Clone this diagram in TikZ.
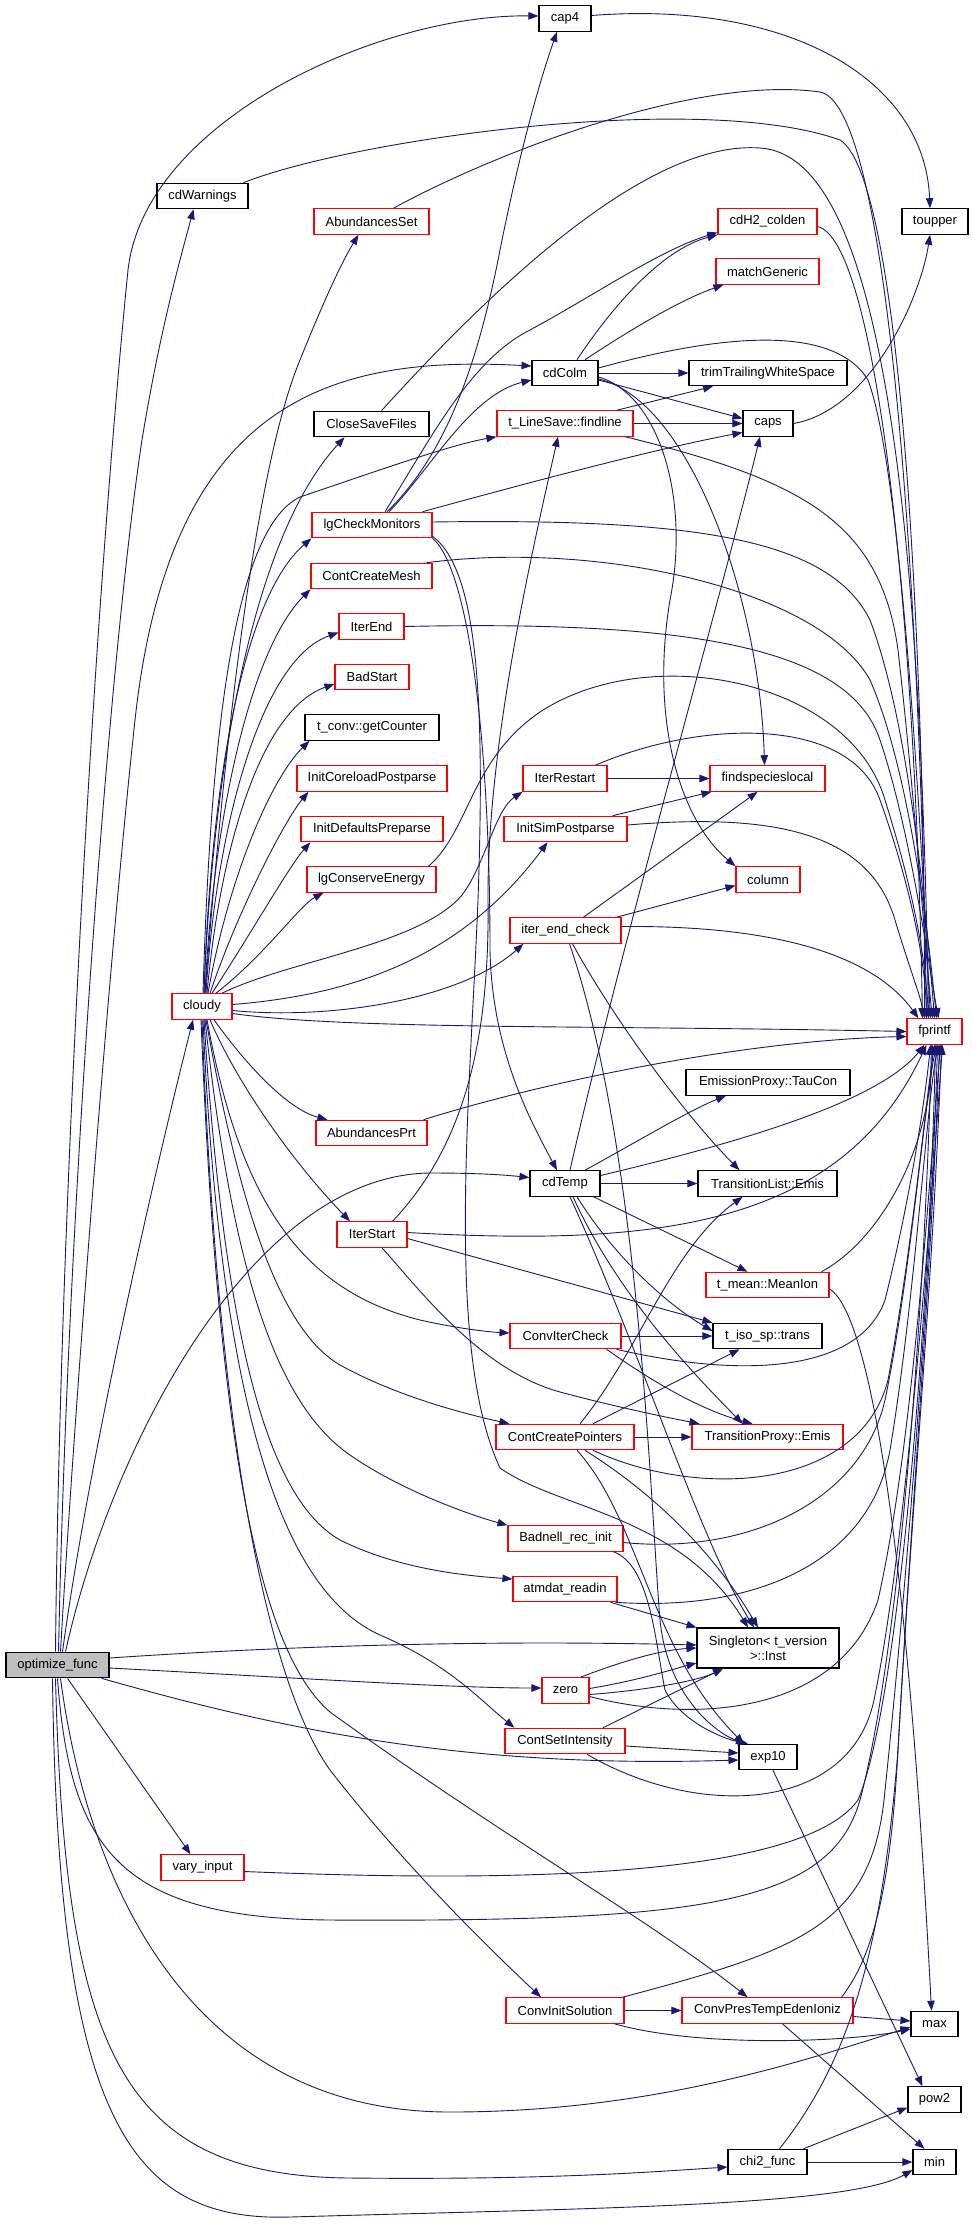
\documentclass[tikz,border=0pt]{standalone}
\usepackage{fontspec}
\setmainfont{Liberation Sans}
\usetikzlibrary{arrows.meta}
\definecolor{edgeblue}{HTML}{191970}
\definecolor{boxred}{HTML}{FF0000}
\definecolor{boxgray}{HTML}{BFBFBF}
\begin{document}
\begin{tikzpicture}[x=1pt,y=-1pt,
  box/.style={draw=black, line width=1.1pt, fill=white, minimum height=25.5pt, inner sep=0pt, font=\fontsize{13}{15}\selectfont},
  rbox/.style={box, draw=boxred},
  e/.style={draw=edgeblue, line width=0.9pt, -{Triangle[length=10pt,width=7.5pt]}}]
\fill[white] (0,0) rectangle (973,2224);
\useasboundingbox (0,0) rectangle (973,2224);
% nodes
\node[box, fill=boxgray, minimum width=103pt] (opt) at (57.5,1665) {optimize\_func};
\node[box, minimum width=52pt] (cap4) at (565,18.5) {cap4};
\node[box, minimum width=91pt] (cdW) at (202.5,196) {cdWarnings};
\node[rbox, minimum width=115pt] (AbSet) at (371.5,221.5) {AbundancesSet};
\node[box, minimum width=66pt] (toupper) at (935,221.5) {toupper};
\node[rbox, minimum width=99pt] (cdH2) at (767.5,221.5) {cdH2\_colden};
\node[rbox, minimum width=103pt] (match) at (767.5,271.5) {matchGeneric};
\node[box, minimum width=66pt] (cdColm) at (565,373) {cdColm};
\node[box, minimum width=158pt] (trim) at (768,373) {trimTrailingWhiteSpace};
\node[box, minimum width=115pt] (CSF) at (371.5,424) {CloseSaveFiles};
\node[rbox, minimum width=136pt] (findline) at (565,423.5) {t\_LineSave::findline};
\node[box, minimum width=50pt] (caps) at (768,423.5) {caps};
\node[rbox, minimum width=120pt] (lgCM) at (372,525) {lgCheckMonitors};
\node[rbox, minimum width=121pt] (CCM) at (371.5,576) {ContCreateMesh};
\node[rbox, minimum width=65pt] (IterEnd) at (371.5,626.5) {IterEnd};
\node[rbox, minimum width=74pt] (BadStart) at (372,677) {BadStart};
\node[box, minimum width=134pt] (getCounter) at (372,727.5) {t\_conv::getCounter};
\node[rbox, minimum width=150pt] (InitCore) at (372,778.5) {InitCoreloadPostparse};
\node[rbox, minimum width=142pt] (InitDef) at (372,829) {InitDefaultsPreparse};
\node[rbox, minimum width=129pt] (lgCE) at (371.5,879.5) {lgConserveEnergy};
\node[rbox, minimum width=84pt] (IterRestart) at (565,778.5) {IterRestart};
\node[rbox, minimum width=115pt] (findsp) at (767.5,778.5) {findspecieslocal};
\node[rbox, minimum width=123pt] (InitSim) at (565.5,829) {InitSimPostparse};
\node[rbox, minimum width=64pt] (column) at (768,879.5) {column};
\node[rbox, minimum width=60pt] (cloudy) at (202,1006.5) {cloudy};
\node[rbox, minimum width=111pt] (iec) at (565.5,930.5) {iter\_end\_check};
\node[rbox, minimum width=55pt] (fprintf) at (934.5,1031.5) {fprintf};
\node[rbox, minimum width=111pt] (AbPrt) at (371.5,1133) {AbundancesPrt};
\node[box, minimum width=164pt] (TauCon) at (768,1082.5) {EmissionProxy::TauCon};
\node[box, minimum width=70pt] (cdTemp) at (565,1183.5) {cdTemp};
\node[box, minimum width=139pt] (TLEmis) at (767.5,1183.5) {TransitionList::Emis};
\node[rbox, minimum width=70pt] (IterStart) at (372,1234.5) {IterStart};
\node[rbox, minimum width=123pt] (MeanIon) at (767.5,1285) {t\_mean::MeanIon};
\node[rbox, minimum width=111pt] (ConvIter) at (565.5,1336) {ConvIterCheck};
\node[box, minimum width=109pt] (isotrans) at (767.5,1336) {t\_iso\_sp::trans};
\node[rbox, minimum width=138pt] (CCP) at (565,1437) {ContCreatePointers};
\node[rbox, minimum width=151pt] (TPEmis) at (767.5,1437) {TransitionProxy::Emis};
\node[rbox, minimum width=115pt] (Badnell) at (565.5,1538.5) {Badnell\_rec\_init};
\node[rbox, minimum width=104pt] (atmdat) at (565,1589) {atmdat\_readin};
\node[box, minimum width=142pt, minimum height=40pt, align=center] (Singleton) at (768,1648) {Singleton< t\_version\\>::Inst};
\node[rbox, minimum width=47pt] (zero) at (565.5,1690.5) {zero};
\node[rbox, minimum width=120pt] (CSI) at (565,1741) {ContSetIntensity};
\node[box, minimum width=58pt] (exp10) at (768,1757) {exp10};
\node[rbox, minimum width=83pt] (vary) at (202.5,1867.5) {vary\_input};
\node[rbox, minimum width=118pt] (ConvInit) at (565,2010.5) {ConvInitSolution};
\node[rbox, minimum width=171pt] (CPTEI) at (767.5,2010.5) {ConvPresTempEdenIoniz};
\node[box, minimum width=47pt] (nmax) at (934.5,2024) {max};
\node[box, minimum width=53pt] (pow2) at (934.5,2099.5) {pow2};
\node[box, minimum width=79pt] (chi2) at (767.5,2162) {chi2\_func};
\node[box, minimum width=43pt] (nmin) at (934.5,2162) {min};
% optimize_func
\draw[e] ([xshift=-2pt]opt.north) .. controls (60,1200) and (95,600) .. (128,270) .. controls (145,120) and (380,14) .. ([yshift=2.5pt]cap4.west);
\draw[e] ([xshift=1pt]opt.north) .. controls (68,1200) and (110,650) .. (142,440) .. controls (160,330) and (180,260) .. ([xshift=-9pt]cdW.south);
\draw[e] ([xshift=3pt]opt.north) .. controls (75,1400) and (110,950) .. (135,720) .. controls (170,400) and (330,355) .. ([yshift=7pt]cdColm.west);
\draw[e] ([xshift=5pt]opt.north) .. controls (90,1450) and (160,1150) .. ([xshift=-9pt]cloudy.south);
\draw[e] ([xshift=8pt]opt.north) .. controls (110,1450) and (250,1175) .. (430,1173) .. controls (480,1173) and (505,1175) .. ([yshift=6pt]cdTemp.west);
\draw[e] ([yshift=7pt]opt.east) .. controls (300,1645) and (500,1640) .. ([yshift=3pt]Singleton.west);
\draw[e] ([yshift=-3pt]opt.east) .. controls (300,1678) and (450,1688) .. ([yshift=2.5pt]zero.west);
\draw[e] ([xshift=-8pt]opt.south east) .. controls (300,1735) and (480,1768) .. ([yshift=-3pt]exp10.west);
\draw[e] ([xshift=10pt]opt.south) -- ([xshift=-12pt]vary.north);
\draw[e] (opt.south) .. controls (70,1850) and (120,1918) .. (330,1920) .. controls (700,1922) and (830,1905) .. (860,1800) .. controls (900,1650) and (925,1300) .. ([xshift=-3pt]fprintf.south);
\draw[e] ([xshift=3pt]opt.south) .. controls (90,1900) and (200,2112) .. (450,2112) .. controls (650,2112) and (800,2062) .. ([yshift=-3pt]nmax.west);
\draw[e] ([xshift=-2pt]opt.south) .. controls (65,2050) and (120,2176) .. (350,2178) .. controls (550,2180) and (650,2172) .. ([yshift=-5pt]chi2.west);
\draw[e] ([xshift=-5pt]opt.south) .. controls (58,2120) and (130,2222) .. (290,2217) .. controls (600,2208) and (850,2206) .. ([yshift=-8pt]nmin.west);
% cloudy
\draw[e] ([xshift=3pt]cloudy.north) .. controls (220,800) and (250,480) .. (300,360) .. controls (320,310) and (340,265) .. ([xshift=-13pt]AbSet.south);
\draw[e] ([xshift=2pt]cloudy.north) .. controls (212,780) and (250,540) .. ([xshift=-27pt]CSF.south);
\draw[e] ([xshift=1pt]cloudy.north) .. controls (210,760) and (230,530) .. (300,497) .. controls (380,470) and (450,445) .. (findline.south west);
\draw[e] ([xshift=2pt]cloudy.north) .. controls (210,800) and (240,600) .. (lgCM.south west);
\draw[e] ([xshift=3pt]cloudy.north) .. controls (213,820) and (250,650) .. (CCM.south west);
\draw[e] ([xshift=4pt]cloudy.north) .. controls (216,830) and (260,660) .. ([yshift=-6pt]IterEnd.west);
\draw[e] ([xshift=5pt]cloudy.north) .. controls (220,850) and (260,710) .. ([yshift=-7pt]BadStart.west);
\draw[e] ([xshift=6pt]cloudy.north) .. controls (228,880) and (270,780) .. ([xshift=5pt]getCounter.south west);
\draw[e] ([xshift=8pt]cloudy.north) .. controls (238,910) and (285,820) .. ([xshift=12pt]InitCore.south west);
\draw[e] ([xshift=10pt]cloudy.north) .. controls (250,935) and (290,865) .. ([xshift=10pt]InitDef.south west);
\draw[e] ([xshift=14pt]cloudy.north) .. controls (265,955) and (300,905) .. ([xshift=17pt]lgCE.south west);
\draw[e] ([xshift=20pt]cloudy.north) .. controls (290,960) and (420,945) .. (462,895) .. controls (485,865) and (495,810) .. (IterRestart.south west);
\draw[e] ([yshift=2pt]cloudy.east) .. controls (350,995) and (460,960) .. ([xshift=-18pt]InitSim.south);
\draw[e] ([yshift=-4pt]cloudy.east) .. controls (330,1020) and (460,1000) .. ([xshift=14pt]iec.south west);
\draw[e] ([yshift=-7pt]cloudy.east) .. controls (350,1030) and (600,1025) .. (fprintf.west);
\draw[e] ([xshift=12pt]cloudy.south) .. controls (250,1070) and (290,1110) .. ([xshift=12pt]AbPrt.north west);
\draw[e] ([xshift=8pt]cloudy.south) .. controls (240,1090) and (300,1170) .. ([xshift=-22pt]IterStart.north);
\draw[e] ([xshift=5pt]cloudy.south) .. controls (240,1200) and (300,1290) .. (420,1320) .. controls (460,1329) and (490,1332) .. ([yshift=3pt]ConvIter.west);
\draw[e] ([xshift=4pt]cloudy.south) .. controls (240,1210) and (280,1330) .. (340,1365) .. controls (400,1398) and (470,1415) .. ([xshift=14pt]CCP.north west);
\draw[e] ([xshift=3pt]cloudy.south) .. controls (230,1250) and (270,1400) .. (350,1455) .. controls (400,1490) and (470,1515) .. (Badnell.north west);
\draw[e] ([xshift=2pt]cloudy.south) .. controls (225,1350) and (270,1500) .. (340,1540) .. controls (400,1570) and (470,1576) .. ([yshift=10pt]atmdat.west);
\draw[e] ([xshift=1pt]cloudy.south) .. controls (220,1400) and (280,1590) .. (380,1635) .. controls (450,1665) and (480,1700) .. ([xshift=10pt]CSI.north west);
\draw[e] (cloudy.south) .. controls (220,1500) and (280,1700) .. (330,1770) .. controls (400,1860) and (480,1940) .. ([xshift=-24pt]ConvInit.north);
\draw[e] ([xshift=-1pt]cloudy.south) .. controls (220,1500) and (270,1660) .. (330,1712) .. controls (500,1835) and (650,1920) .. ([xshift=-20pt]CPTEI.north);
% upper part
\draw[e] ([xshift=-5pt]cdW.north east) .. controls (350,140) and (700,90) .. (840,140) .. controls (905,180) and (925,700) .. ([xshift=-10pt]fprintf.north);
\draw[e] ([xshift=22pt]AbSet.north) .. controls (500,150) and (700,75) .. (820,92) .. controls (890,105) and (920,600) .. ([xshift=-8pt]fprintf.north);
\draw[e] ([xshift=10pt]CSF.north) .. controls (500,280) and (650,140) .. (760,148) .. controls (880,155) and (920,500) .. ([xshift=-6pt]fprintf.north);
\draw[e] ([yshift=3pt]cap4.east) .. controls (790,0) and (925,80) .. ([xshift=-5pt]toupper.north);
\draw[e] ([xshift=12pt]cdColm.north) .. controls (610,310) and (660,250) .. (cdH2.south west);
\draw[e] ([xshift=20pt]cdColm.north) .. controls (630,330) and (680,300) .. ([xshift=8pt]match.south west);
\draw[e] (cdColm.east) -- (trim.west);
\draw[e] ([yshift=-7pt]cdColm.east) -- ([yshift=5pt]caps.west);
\draw[e] ([yshift=5pt]cdColm.east) .. controls (700,340) and (830,318) .. (868,380) .. controls (905,480) and (924,900) .. ([xshift=-4pt]fprintf.north);
\draw[e] ([yshift=-4pt]cdColm.east) .. controls (660,395) and (690,500) .. (670,600) .. controls (650,720) and (680,820) .. (column.north west);
\draw[e] ([yshift=-6pt]cdColm.east) .. controls (690,400) and (760,600) .. ([xshift=-3pt]findsp.north);
\draw[e] ([yshift=-5pt]cdH2.east) .. controls (875,240) and (915,600) .. ([xshift=-12pt]fprintf.north);
\draw[e] ([xshift=52pt]findline.north) -- ([xshift=-55pt]trim.south);
\draw[e] (findline.east) -- (caps.west);
\draw[e] ([xshift=-8pt]findline.south east) .. controls (800,480) and (880,520) .. (898,650) .. controls (915,800) and (925,950) .. ([xshift=-2pt]fprintf.north);
\draw[e] (caps.east) .. controls (870,410) and (920,300) .. ([xshift=-5pt]toupper.south);
% lgCheckMonitors
\draw[e] ([xshift=15pt]lgCM.north) .. controls (440,460) and (475,380) .. (500,250) .. controls (520,150) and (540,80) .. ([xshift=-8pt]cap4.south);
\draw[e] ([xshift=17pt]lgCM.north) .. controls (430,470) and (470,395) .. ([yshift=-7pt]cdColm.west);
\draw[e] ([xshift=13pt]lgCM.north) .. controls (430,440) and (470,360) .. (530,330) .. controls (600,292) and (660,250) .. ([yshift=-11pt]cdH2.west);
\draw[e] ([xshift=-10pt]lgCM.north east) .. controls (520,485) and (650,450) .. ([yshift=-9pt]caps.west);
\draw[e] ([yshift=3pt]lgCM.east) .. controls (700,518) and (830,540) .. (870,620) .. controls (908,720) and (925,900) .. (fprintf.north);
\draw[e] (lgCM.south east) .. controls (470,570) and (490,750) .. (490,950) .. controls (492,1050) and (530,1120) .. ([xshift=-8pt]cdTemp.north);
\draw[e] ([yshift=2pt]lgCM.south east) .. controls (478,570) and (485,700) .. (478,900) .. controls (470,1100) and (445,1350) .. (500,1468) .. controls (560,1510) and (680,1515) .. ([xshift=-20pt]Singleton.north);
\draw[e] ([xshift=-6pt]CCM.north east) .. controls (600,540) and (820,590) .. (870,680) .. controls (905,760) and (925,900) .. ([xshift=2pt]fprintf.north);
\draw[e] (IterEnd.east) .. controls (700,620) and (850,650) .. (880,740) .. controls (910,830) and (926,950) .. ([xshift=4pt]fprintf.north);
\draw[e] ([xshift=-8pt]lgCE.north east) .. controls (470,830) and (470,760) .. (540,712) .. controls (650,640) and (850,680) .. (885,800) .. controls (910,880) and (925,950) .. ([xshift=-6pt]fprintf.north);
\draw[e] (IterRestart.east) -- (findsp.west);
\draw[e] ([xshift=-12pt]IterRestart.north east) .. controls (700,720) and (850,715) .. (880,800) .. controls (905,870) and (925,950) .. ([xshift=-8pt]fprintf.north);
\draw[e] ([xshift=-15pt]InitSim.north east) -- ([xshift=2pt]findsp.south west);
\draw[e] ([yshift=4pt]InitSim.east) .. controls (780,812) and (870,835) .. (895,920) .. controls (910,970) and (922,1000) .. ([xshift=-12pt]fprintf.north);
\draw[e] ([xshift=-5pt]iec.north east) -- ([yshift=-6pt]column.west);
\draw[e] ([yshift=4pt]iec.east) .. controls (800,925) and (880,965) .. ([xshift=-16pt]fprintf.north);
\draw[e] ([xshift=18pt]iec.north) -- ([xshift=-10pt]findsp.south);
\draw[e] ([xshift=7pt]iec.south) .. controls (620,1030) and (690,1120) .. ([xshift=-28pt]TLEmis.north);
\draw[e] ([xshift=4pt]iec.south) .. controls (640,1150) and (650,1500) .. (660,1620) .. controls (668,1700) and (720,1735) .. ([xshift=-22pt]exp10.north);
\draw[e] ([xshift=-4pt]AbPrt.north east) .. controls (550,1080) and (750,1040) .. ([yshift=-5pt]fprintf.west);
% cdTemp
\draw[e] ([xshift=5pt]cdTemp.north) .. controls (620,950) and (720,600) .. ([xshift=-8pt]caps.south);
\draw[e] ([xshift=20pt]cdTemp.north) .. controls (640,1140) and (690,1110) .. ([xshift=-42pt]TauCon.south);
\draw[e] ([yshift=8pt]cdTemp.east) .. controls (750,1140) and (880,1100) .. ([xshift=-10pt]fprintf.south);
\draw[e] (cdTemp.east) -- (TLEmis.west);
\draw[e] ([xshift=-7pt]cdTemp.south east) -- ([xshift=-20pt]MeanIon.north);
\draw[e] ([xshift=12pt]cdTemp.south) .. controls (610,1250) and (660,1300) .. ([yshift=5pt]isotrans.west);
\draw[e] ([xshift=8pt]cdTemp.south) .. controls (620,1300) and (700,1380) .. ([xshift=-25pt]TPEmis.north);
\draw[e] ([xshift=5pt]cdTemp.south) .. controls (640,1350) and (700,1540) .. ([xshift=-14pt]Singleton.north);
% IterStart
\draw[e] ([xshift=-15pt]IterStart.north east) .. controls (460,1150) and (490,1050) .. (488,900) .. controls (487,750) and (530,560) .. ([xshift=-7pt]findline.south);
\draw[e] ([yshift=2pt]IterStart.east) .. controls (650,1246) and (840,1230) .. ([xshift=-8pt]fprintf.south);
\draw[e] ([yshift=-4pt]IterStart.east) -- (isotrans.north west);
\draw[e] ([xshift=10pt]IterStart.south) .. controls (420,1290) and (480,1370) .. (560,1392) .. controls (620,1408) and (670,1418) .. ([xshift=8pt]TPEmis.north west);
% MeanIon, ConvIterCheck
\draw[e] ([xshift=-8pt]MeanIon.north east) .. controls (880,1240) and (930,1150) .. ([xshift=-2pt]fprintf.south);
\draw[e] ([yshift=-4pt]MeanIon.east) .. controls (865,1310) and (905,1500) .. ([xshift=-3pt]nmax.north);
\draw[e] (ConvIter.east) -- (isotrans.west);
\draw[e] ([xshift=-15pt]ConvIter.south east) .. controls (650,1380) and (700,1410) .. ([xshift=-15pt]TPEmis.north);
\draw[e] ([xshift=-5pt]ConvIter.south east) .. controls (750,1380) and (860,1370) .. (885,1300) .. controls (910,1200) and (925,1100) .. ([xshift=-4pt]fprintf.south);
% ContCreatePointers
\draw[e] (CCP.east) -- (TPEmis.west);
\draw[e] ([xshift=28pt]CCP.north) -- ([xshift=-28pt]isotrans.south);
\draw[e] ([xshift=15pt]CCP.north) .. controls (640,1350) and (670,1250) .. ([xshift=-25pt]TLEmis.south);
\draw[e] ([xshift=28pt]CCP.south) .. controls (700,1500) and (860,1490) .. (888,1380) .. controls (912,1250) and (926,1100) .. (fprintf.south);
\draw[e] ([xshift=20pt]CCP.south) .. controls (680,1510) and (730,1580) .. ([xshift=-10pt]Singleton.north);
\draw[e] ([xshift=12pt]CCP.south) .. controls (640,1520) and (650,1650) .. ([xshift=-24pt]exp10.north);
% Badnell, atmdat
\draw[e] ([xshift=-10pt]Badnell.south east) .. controls (650,1565) and (655,1640) .. (665,1690) .. controls (680,1720) and (720,1738) .. ([xshift=-20pt]exp10.north);
\draw[e] ([yshift=-4pt]Badnell.east) .. controls (750,1555) and (862,1500) .. (885,1400) .. controls (910,1280) and (925,1100) .. ([xshift=2pt]fprintf.south);
\draw[e] ([xshift=-7pt]atmdat.south east) -- (Singleton.north west);
\draw[e] ([xshift=-2pt]atmdat.south east) .. controls (760,1612) and (870,1560) .. (890,1450) .. controls (915,1300) and (927,1100) .. ([xshift=4pt]fprintf.south);
% zero
\draw[e] ([xshift=15pt]zero.north) .. controls (620,1662) and (660,1650) .. (Singleton.west);
\draw[e] ([yshift=2pt]zero.east) .. controls (640,1680) and (670,1670) .. ([yshift=-15pt]Singleton.west);
\draw[e] ([yshift=-4pt]zero.east) .. controls (650,1690) and (700,1680) .. ([xshift=-45pt]Singleton.south);
\draw[e] ([yshift=-6pt]zero.east) .. controls (700,1725) and (840,1712) .. (878,1600) .. controls (912,1450) and (928,1200) .. ([xshift=6pt]fprintf.south);
% ContSetIntensity
\draw[e] ([xshift=38pt]CSI.north) -- ([xshift=-45pt]Singleton.south);
\draw[e] ([yshift=-5pt]CSI.east) -- ([yshift=4pt]exp10.west);
\draw[e] ([xshift=22pt]CSI.south) .. controls (700,1820) and (850,1812) .. (874,1700) .. controls (905,1550) and (928,1250) .. ([xshift=8pt]fprintf.south);
% lower part
\draw[e] ([yshift=-4pt]vary.east) .. controls (500,1882) and (800,1880) .. (858,1800) .. controls (900,1700) and (930,1300) .. ([xshift=1pt]fprintf.south);
\draw[e] (ConvInit.east) -- (CPTEI.west);
\draw[e] ([xshift=-10pt]ConvInit.south east) .. controls (700,2048) and (850,2042) .. ([yshift=-5pt]nmax.west);
\draw[e] ([xshift=-2pt]ConvInit.north east) .. controls (800,1950) and (870,1925) .. (884,1800) .. controls (905,1600) and (930,1300) .. ([xshift=3pt]fprintf.south);
\draw[e] ([yshift=-6pt]CPTEI.east) -- ([yshift=3pt]nmax.west);
\draw[e] ([xshift=15pt]CPTEI.south) -- ([xshift=-10pt]nmin.north);
\draw[e] ([xshift=-12pt]CPTEI.north east) .. controls (870,1960) and (890,1900) .. (898,1750) .. controls (912,1500) and (930,1300) .. ([xshift=5pt]fprintf.south);
\draw[e] ([xshift=-4pt]chi2.north east) -- ([yshift=-8pt]pow2.west);
\draw[e] (chi2.east) -- (nmin.west);
\draw[e] ([xshift=12pt]chi2.north) .. controls (850,2060) and (882,1950) .. (898,1750) .. controls (912,1500) and (932,1300) .. ([xshift=7pt]fprintf.south);
\draw[e] ([xshift=5pt]exp10.south) -- ([xshift=-12pt]pow2.north);
\end{tikzpicture}
\end{document}
